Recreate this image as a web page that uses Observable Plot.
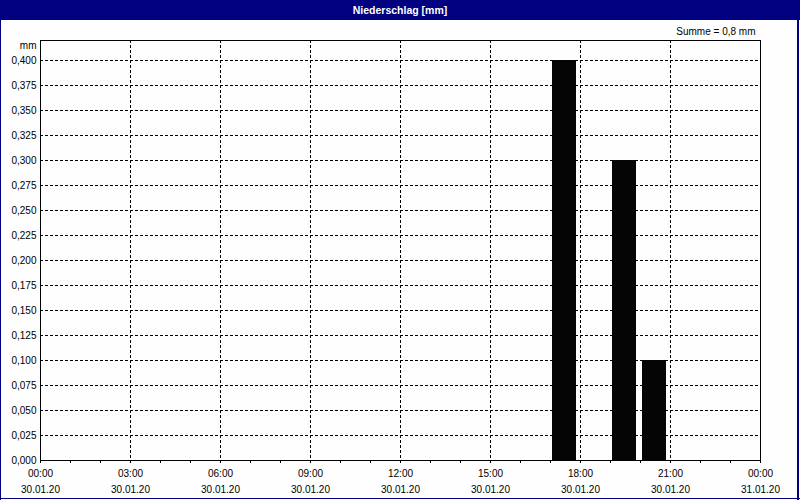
<!DOCTYPE html>
<html>
<head>
<meta charset="utf-8">
<script src="https://cdn.jsdelivr.net/npm/d3@7"></script>
<script src="https://cdn.jsdelivr.net/npm/@observablehq/plot@0.6"></script>
<style>
  html, body { margin: 0; padding: 0; background: #fdfefd; }
  #wrap { position: relative; width: 800px; height: 500px; background: #fdfefd; overflow: hidden; }
  #title { position: absolute; left: 0; top: 0; width: 800px; height: 20px; background: #000080; color: #fff;
           font: bold 10.5px "Liberation Sans", Arial, sans-serif; text-align: center; line-height: 20px; }
  #chart { position: absolute; left: 0; top: 20px; }
  .b { position: absolute; background: #000080; }
</style>
</head>
<body>
<div id="wrap">
  <div id="title">Niederschlag [mm]</div>
  <div id="chart"></div>
  <div class="b" style="left:0;top:0;width:1px;height:500px"></div>
  <div class="b" style="left:797px;top:0;width:2px;height:500px"></div>
  <div class="b" style="left:0;top:498px;width:800px;height:1px"></div>
</div>
<script>
// Data (hour of day for each hourly precipitation bar, 30.01.20)
const barHours = [17, 19, 20];
const barValues = [0.4, 0.3, 0.1];
const sumLabel = "Summe = 0,8 mm";
const yUnit = "mm";
const yTicks = [0, 0.025, 0.05, 0.075, 0.1, 0.125, 0.15, 0.175, 0.2, 0.225, 0.25, 0.275, 0.3, 0.325, 0.35, 0.375, 0.4];
const xLabelHours = [0, 3, 6, 9, 12, 15, 18, 21, 24];
const xMinorHours = [0,1,2,3,4,5,6,7,8,9,10,11,12,13,14,15,16,17,18,19,20,21,22,23,24];
const xGridHours = [3, 6, 9, 12, 15, 18, 21];

const t = h => new Date(2020, 0, 30, h);
const data = barHours.map((h, i) => ({start: t(h), end: t(h + 1), value: barValues[i]}));
const fmtY = d => d3.format(".3f")(d).replace(".", ",");

const chart = Plot.plot({
  width: 800,
  height: 480,
  marginTop: 20,
  marginLeft: 40,
  marginRight: 40,
  marginBottom: 40,
  style: {fontFamily: "'Liberation Sans', Arial, sans-serif", fontSize: "10px", background: "transparent", color: "black"},
  x: {type: "time", domain: [t(0), t(24)]},
  y: {domain: [0, 0.42]},
  marks: [
    Plot.gridY(yTicks.filter(d => d > 0), {stroke: "black", strokeOpacity: 1, strokeDasharray: "3,2"}),
    Plot.gridX(xGridHours.map(t), {stroke: "black", strokeOpacity: 1, strokeDasharray: "3,2"}),
    Plot.rectY(data, {x1: "start", x2: "end", y: "value", fill: "#050505", insetLeft: 2, insetRight: 4}),
    Plot.frame({stroke: "black"}),
    Plot.axisY(yTicks, {tickSize: 0, tickPadding: 4, tickFormat: fmtY, label: null}),
    Plot.text([yUnit], {frameAnchor: "top-left", dx: -4, dy: 5, textAnchor: "end", lineAnchor: "middle"}),
    Plot.axisX(xMinorHours.map(t), {tickSize: 3, tickFormat: () => "", label: null}),
    Plot.axisX(xLabelHours.map(t), {tickSize: 0, tickPadding: 9, tickFormat: d3.timeFormat("%H:%M"), label: null}),
    Plot.axisX(xLabelHours.map(t), {tickSize: 0, tickPadding: 25, tickFormat: d3.timeFormat("%d.%m.%y"), label: null}),
    Plot.text([sumLabel], {frameAnchor: "top-right", dx: -5, dy: -9, textAnchor: "end", lineAnchor: "middle"})
  ]
});
document.getElementById("chart").appendChild(chart);
</script>
</body>
</html>
